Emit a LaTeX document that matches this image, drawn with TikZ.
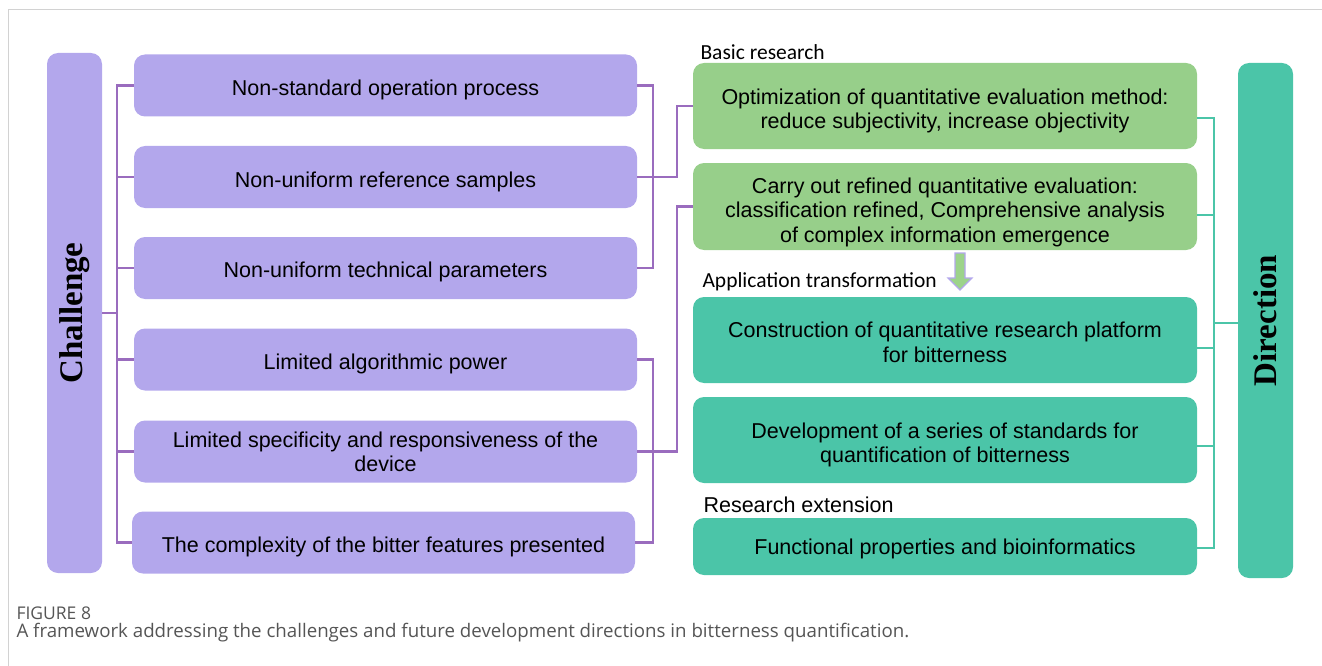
\documentclass[tikz,border=0pt]{standalone}
\usepackage{fontspec}
\setmainfont{Liberation Sans}
\newfontfamily\titleserif{Liberation Serif}
\newfontfamily\labelfont{Carlito}
\newfontfamily\capfont{Open Sans}
\usetikzlibrary{calc}
\definecolor{lav}{HTML}{B3A7EC}
\definecolor{leaf}{HTML}{97CF8A}
\definecolor{sea}{HTML}{4BC5A8}
\definecolor{plum}{HTML}{9A6CBE}
\definecolor{framegray}{HTML}{D2D2D2}
\definecolor{captxt}{HTML}{555555}
\definecolor{arrowgreen}{HTML}{9CD38A}

\begin{document}
\begin{tikzpicture}[x=1pt,y=-1pt,
  box/.style={rounded corners=11pt, inner sep=0pt},
  pbox/.style={box, fill=lav, minimum width=503pt, minimum height=62pt},
  gbox/.style={box, fill=leaf, minimum width=504pt},
  tbox/.style={box, fill=sea, minimum width=504pt},
  btext/.style={inner sep=0pt, align=center, text=black,
    font=\fontsize{21.5}{24.5}\selectfont},
  sidebar/.style={rounded corners=11pt, inner sep=0pt, minimum width=55pt},
  sidetext/.style={rotate=90, font=\titleserif\bfseries\fontsize{33}{33}\selectfont, text=black},
  pline/.style={draw=plum, line width=2.5pt},
  tline/.style={draw=sea, line width=2.5pt},
  grouplabel/.style={anchor=base west, text=black},
]
\useasboundingbox (0,0) rectangle (1322,666);
\clip (0,0) rectangle (1322,666);

% page frame
\draw[framegray, line width=1pt] (8.5,700) -- (8.5,9.5) -- (1340,9.5);

% left column: challenges
\node[sidebar, fill=lav, minimum height=520pt] (chl) at (74.5,313) {};
\node[sidetext] (chltext) at (chl.center) {Challenge};

\node[pbox] (p1) at (385.5,85.5) {};
\node[pbox] (p2) at (385.5,177) {};
\node[pbox] (p3) at (385.5,268) {};
\node[pbox] (p4) at (385.5,359.5) {};
\node[pbox] (p5) at (385.5,451.5) {};
\node[pbox] (p6) at (383.5,542.5) {};
\node[btext] (p1t) at ([yshift=-4.5pt]p1.center) {Non-standard operation process};
\node[btext] (p2t) at ([yshift=-4.5pt]p2.center) {Non-uniform reference samples};
\node[btext] (p3t) at ([yshift=-4pt]p3.center) {Non-uniform technical parameters};
\node[btext] (p4t) at ([yshift=-4.5pt]p4.center) {Limited algorithmic power};
\node[btext] (p5t) at ([yshift=-0.5pt]p5.center) {Limited specificity and responsiveness of the\\device};
\node[btext] (p6t) at ([yshift=-4pt]p6.center) {The complexity of the bitter features presented};

% right column: directions
\node[gbox, minimum height=86pt] (g1) at (945,106) {};
\node[gbox, minimum height=87pt] (g2) at (945,206.5) {};
\node[tbox, minimum height=86pt] (t1) at (945,340) {};
\node[tbox, minimum height=86pt] (t2) at (945,440) {};
\node[tbox, minimum height=57pt] (t3) at (945,546.5) {};
\node[btext] (g1t) at ([yshift=-5pt]g1.center)
  {Optimization of quantitative evaluation method:\\reduce subjectivity, increase objectivity};
\node[btext] (g2t) at ([yshift=-5.5pt]g2.center)
  {Carry out refined quantitative evaluation:\\classification refined, Comprehensive analysis\\of complex information emergence};
\node[btext] (t1t) at ([yshift=-2.5pt]t1.center)
  {Construction of quantitative research platform\\for bitterness};
\node[btext] (t2t) at ([yshift=-5pt]t2.center)
  {Development of a series of standards for\\quantification of bitterness};
\node[btext] (t3t) at ([yshift=-2pt]t3.center)
  {Functional properties and bioinformatics};

\node[sidebar, fill=sea, minimum height=515pt] (dir) at (1265.5,320.5) {};
\node[sidetext] (dirtext) at (dir.center) {Direction};

% group labels
\node[grouplabel, font=\labelfont\fontsize{21.5}{21.5}\selectfont] (lbasic) at (697,60) {Basic research};
\node[grouplabel, font=\labelfont\fontsize{21.5}{21.5}\selectfont] (lapp) at (699,287) {Application transformation};
\node[grouplabel, font=\fontsize{21.5}{21.5}\selectfont] (lext) at (700,512) {Research extension};

% down arrow between the two groups
\filldraw[fill=arrowgreen, draw=lav, line width=1.2pt]
  (955,253) -- (965,253) -- (965,278) -- (972,278) -- (960,290)
  -- (948,278) -- (955,278) -- cycle;

% left bracket
\coordinate (L) at (117,0);
\draw[pline] (p1.west) -- (p1.west -| L) -- (p6.west -| L) -- (p6.west);
\foreach \n in {p2,p3,p4,p5} \draw[pline] (\n.west) -- (\n.west -| L);
\draw[pline] (chl.east) -- (chl.east -| L);

% middle brackets
\coordinate (R) at (653,0);
\coordinate (M) at (677,0);
\draw[pline] (p1.east) -- (p1.east -| R) -- (p3.east -| R) -- (p3.east);
\draw[pline] (p2.east) -- (p2.east -| M) |- (g1.west);
\draw[pline] (p4.east) -- (p4.east -| R) -- (p6.east -| R) -- (p6.east);
\draw[pline] (p5.east) -- (p5.east -| M) |- (g2.west);

% right bracket
\coordinate (Q) at (1214,0);
\draw[tline] ([yshift=-12pt]g1.east) -- ([yshift=-12pt]g1.east -| Q)
  -- ([yshift=-1.5pt]t3.east -| Q) -- ([yshift=-1.5pt]t3.east);
\draw[tline] ([yshift=-8.5pt]g2.east) -- ([yshift=-8.5pt]g2.east -| Q);
\draw[tline] ([yshift=-8pt]t1.east) -- ([yshift=-8pt]t1.east -| Q);
\draw[tline] ([yshift=-6pt]t2.east) -- ([yshift=-6pt]t2.east -| Q);
\draw[tline] ([yshift=-2.5pt]dir.west) -- ([yshift=-2.5pt]dir.west -| Q);

% caption
\node[anchor=base west, font=\capfont\fontsize{17.5}{17.5}\selectfont, text=captxt] (fig) at (13,619) {FIGURE 8};
\node[anchor=base west, font=\capfont\fontsize{18.7}{18.7}\selectfont, text=captxt] (cap) at (13,637)
  {A framework addressing the challenges and future development directions in bitterness quantification.};
\end{tikzpicture}
\end{document}
